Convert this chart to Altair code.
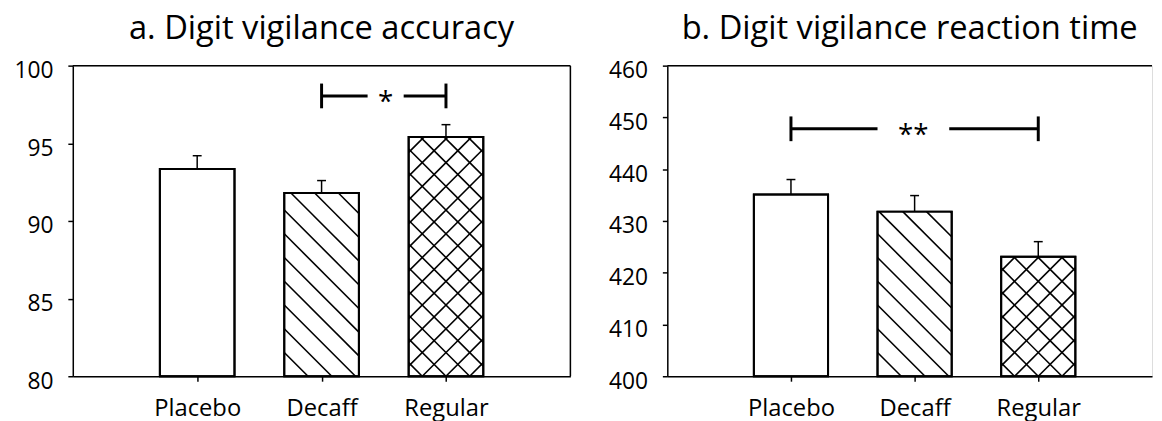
import altair as alt
import pandas as pd

# ---- data ----
categories = ["Placebo", "Decaff", "Regular"]
positions = [1, 2, 3]
patterns = ["none", "diagonal", "cross"]

acc_mean = [93.35, 91.8, 95.4]
acc_err = [0.85, 0.8, 0.8]
acc_ticks = [80, 85, 90, 95, 100]
acc_sig_x = [2, 3]
acc_sig_gap = [2.37, 2.66]
acc_sig_y = 98.05
acc_sig_label = "*"

rt_mean = [435.1, 431.8, 423.1]
rt_err = [2.9, 3.1, 2.9]
rt_ticks = [400, 410, 420, 430, 440, 450, 460]
rt_sig_x = [1, 3]
rt_sig_gap = [1.70, 2.28]
rt_sig_y = 447.8
rt_sig_label = "**"

FONT = "Open Sans"
PLOT_H = 314
HALF_W = 0.3
HATCH_PX = 24


def hatch_segments(pos, base, val, kx, ky, kind):
    W = 2 * HALF_W * kx
    H = (val - base) * ky
    segs = []
    if kind in ("diagonal", "cross"):
        start = 0.0 if kind == "diagonal" else (W / 2) % HATCH_PX
        s = start
        while s < W + H:
            p0 = max(0.0, s - H)
            p1 = min(W, s)
            if p1 > p0:
                segs.append((p0, s - p0, p1, s - p1))
            s += HATCH_PX
    if kind == "cross":
        s = -W / 2 - HATCH_PX * int((W / 2) / HATCH_PX + 1)
        while s < H:
            p0 = max(0.0, -s)
            p1 = min(W, H - s)
            if p1 > p0:
                segs.append((p0, s + p0, p1, s + p1))
            s += HATCH_PX
    rows = []
    for (a, b, c, d) in segs:
        rows.append({
            "x": pos - HALF_W + a / kx, "y": base + b / ky,
            "x2": pos - HALF_W + c / kx, "y2": base + d / ky,
        })
    return rows


def panel(title, means, errs, ticks, sig_x, sig_gap, sig_y, sig_label, width, xmax, right_border):
    ymin, ymax = ticks[0], ticks[-1]
    kx = width / xmax
    ky = PLOT_H / (ymax - ymin)
    xs = alt.Scale(domain=[0, xmax], nice=False, zero=False)
    ys = alt.Scale(domain=[ymin, ymax], nice=False, zero=False)

    df = pd.DataFrame({
        "cat": categories, "pos": positions, "mean": means, "err": errs, "pattern": patterns,
    })
    df["lo"] = df["pos"] - HALF_W
    df["hi"] = df["pos"] + HALF_W
    df["top"] = df["mean"] + df["err"]
    df["base"] = ymin

    label_expr = "[" + ",".join("'%s'" % c for c in categories) + "][datum.value - 1]"
    xaxis = alt.Axis(values=positions, labelExpr=label_expr, title=None, grid=False,
                     domainColor="black", domainWidth=1.5, tickColor="black", tickWidth=1.5,
                     tickSize=5, labelPadding=16, labelFontSize=24, labelFont=FONT,
                     labelColor="black")
    yaxis = alt.Axis(values=ticks, title=None, grid=False, domainColor="black", domainWidth=1.5,
                     tickColor="black", tickWidth=1.5, tickSize=5, labelPadding=15,
                     labelFontSize=23, labelFont=FONT, labelColor="black", labelOffset=5)

    def X(f):
        return alt.X(f, scale=xs, axis=xaxis)

    def Y(f):
        return alt.Y(f, scale=ys, axis=yaxis)

    bars = alt.Chart(df).mark_bar(fill="white", stroke="black", strokeWidth=2).encode(
        x=X("lo:Q"), x2="hi:Q", y=Y("mean:Q"), y2="base:Q",
    )

    hrows = []
    for p, m, k in zip(positions, means, patterns):
        hrows += hatch_segments(p, ymin, m, kx, ky, k)
    hdf = pd.DataFrame(hrows)
    hatch = alt.Chart(hdf).mark_rule(color="black", strokeWidth=1.6).encode(
        x=X("x:Q"), x2="x2:Q", y=Y("y:Q"), y2="y2:Q",
    )

    outline = alt.Chart(df).mark_bar(fill="transparent", stroke="black", strokeWidth=2).encode(
        x=X("lo:Q"), x2="hi:Q", y=Y("mean:Q"), y2="base:Q",
    )

    stem = alt.Chart(df).mark_rule(color="black", strokeWidth=1.5).encode(
        x=X("pos:Q"), y=Y("mean:Q"), y2="top:Q",
    )
    cap = alt.Chart(df).mark_rule(color="black", strokeWidth=1.5, xOffset=-4.5, x2Offset=4.5).encode(
        x=X("pos:Q"), x2="pos:Q", y=Y("top:Q"),
    )

    sdf = pd.DataFrame({"x": [sig_x[0], sig_gap[1]], "x2": [sig_gap[0], sig_x[1]], "y": [sig_y, sig_y]})
    sig_lines = alt.Chart(sdf).mark_rule(color="black", strokeWidth=3).encode(
        x=X("x:Q"), x2="x2:Q", y=Y("y:Q"),
    )
    edf = pd.DataFrame({"x": sig_x, "y": [sig_y, sig_y]})
    sig_ends = alt.Chart(edf).mark_rule(color="black", strokeWidth=3, yOffset=-12.5, y2Offset=12.5).encode(
        x=X("x:Q"), y=Y("y:Q"), y2="y:Q",
    )
    tdf = pd.DataFrame({"x": [(sig_gap[0] + sig_gap[1]) / 2], "y": [sig_y], "t": [sig_label]})
    sig_text = alt.Chart(tdf).mark_text(font=FONT, fontSize=28, color="black", baseline="middle", dy=7).encode(
        x=X("x:Q"), y=Y("y:Q"), text="t:N",
    )

    fdf = pd.DataFrame({"y": [ymax]})
    top_border = alt.Chart(fdf).mark_rule(color="black", strokeWidth=1.5).encode(y=Y("y:Q"))
    layers = [bars, hatch, outline, stem, cap, sig_lines, sig_ends, sig_text, top_border]
    if right_border:
        rdf = pd.DataFrame({"x": [xmax]})
        layers.append(alt.Chart(rdf).mark_rule(color="black", strokeWidth=1.5).encode(x=X("x:Q")))

    return alt.layer(*layers).properties(
        width=width, height=PLOT_H,
        title=alt.TitleParams(text=title, font=FONT, fontSize=33, fontWeight="normal",
                              color="black", anchor="middle", offset=14),
    )


a = panel("a. Digit vigilance accuracy", acc_mean, acc_err, acc_ticks, acc_sig_x, acc_sig_gap,
          acc_sig_y, acc_sig_label, 503, 4.0, True)
b = panel("b. Digit vigilance reaction time", rt_mean, rt_err, rt_ticks, rt_sig_x, rt_sig_gap,
          rt_sig_y, rt_sig_label, 490, 3.92, False)

chart = alt.hconcat(a, b, spacing=36).configure_view(stroke="transparent", strokeWidth=0).configure(
    padding={"left": 5.5, "top": 2, "right": 0, "bottom": 0}, font=FONT, background="white"
)

chart.save("out.html", embed_options={"renderer": "svg", "actions": False})
